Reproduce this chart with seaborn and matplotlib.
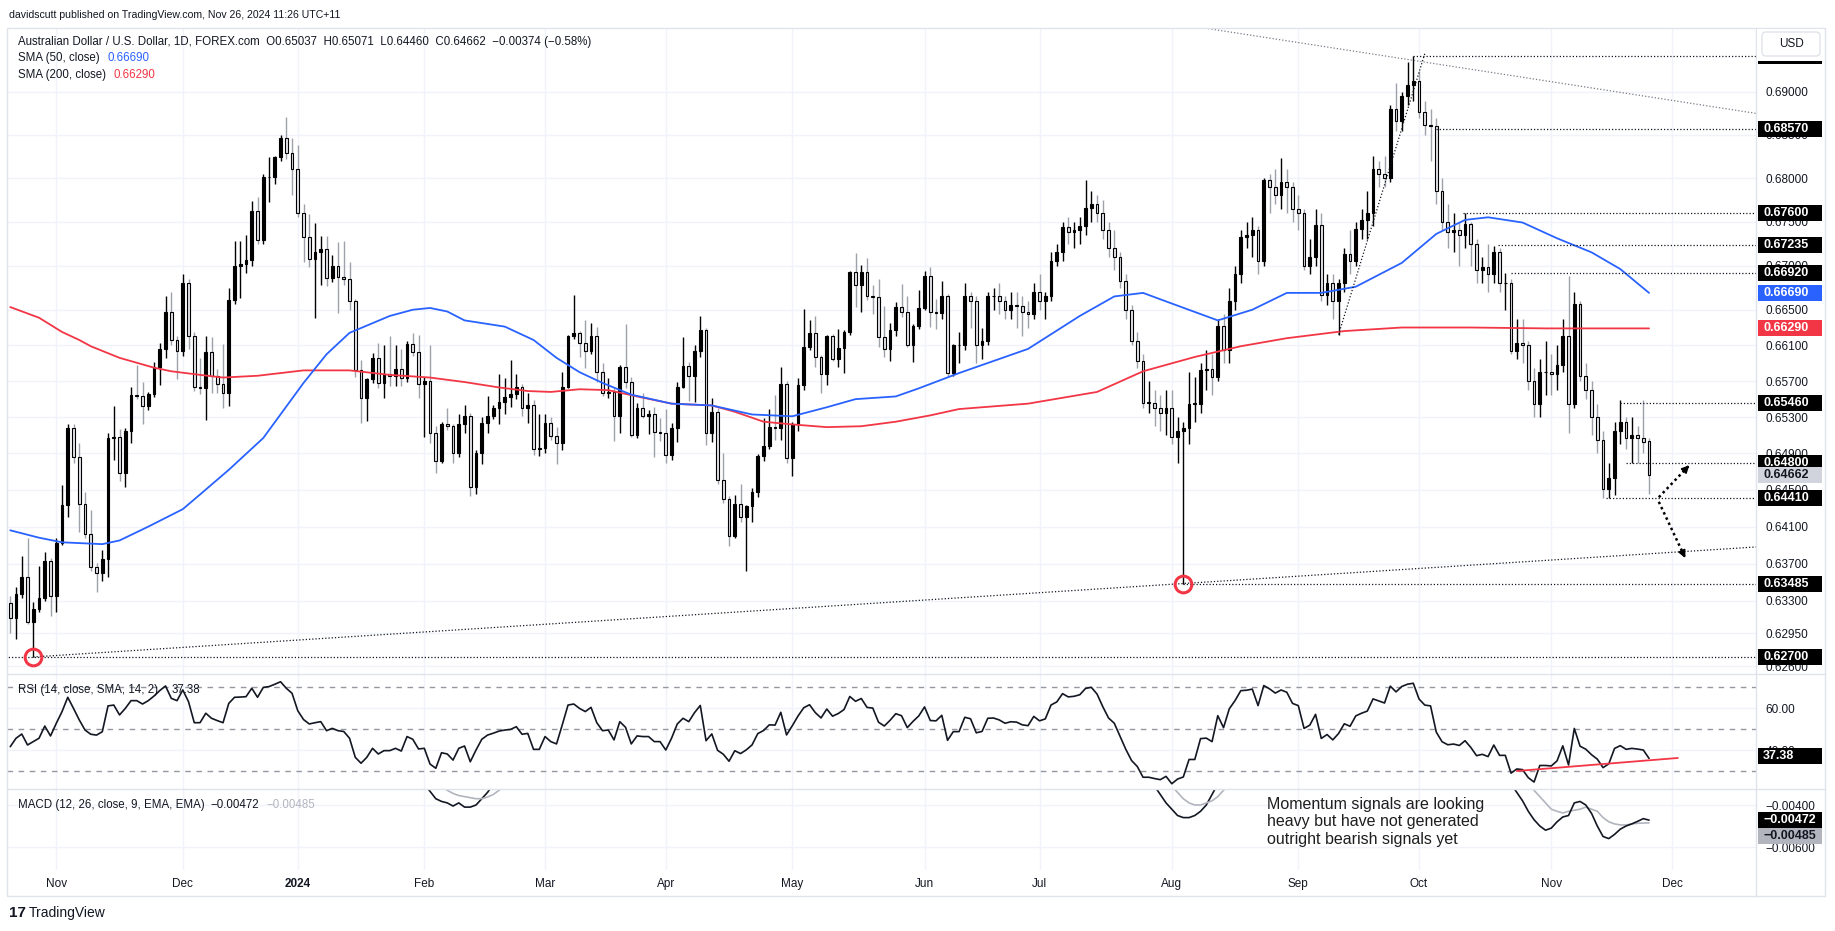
import numpy as np
import pandas as pd
import matplotlib
matplotlib.use("Agg")
import matplotlib.pyplot as plt
from matplotlib.patches import Rectangle, FancyBboxPatch
from matplotlib.lines import Line2D
from matplotlib.transforms import IdentityTransform
from matplotlib.ticker import FixedLocator, NullLocator, FixedFormatter
import seaborn as sns

# ---- AUD/USD daily bars (Oct 20 2023 .. Nov 26 2024) ----
first_open = 0.6328
last_open = 0.65037
close = [
    0.6312, 0.6337, 0.6355, 0.6307, 0.6321, 0.6333, 0.6373, 0.6335, 0.6392, 0.6433,
    0.6518, 0.6486, 0.6435, 0.6402, 0.6366, 0.6360, 0.6375, 0.6507, 0.6508, 0.6469,
    0.6515, 0.6555, 0.6553, 0.6542, 0.6556, 0.6586, 0.6606, 0.6647, 0.6616, 0.6604,
    0.6680, 0.6620, 0.6564, 0.6562, 0.6602, 0.6576, 0.6567, 0.6557, 0.6661, 0.6699,
    0.6702, 0.6706, 0.6762, 0.6729, 0.6801, 0.6801, 0.6824, 0.6846, 0.6829, 0.6810,
    0.6760, 0.6732, 0.6707, 0.6715, 0.6719, 0.6686, 0.6700, 0.6687, 0.6685, 0.6660,
    0.6582, 0.6551, 0.6572, 0.6596, 0.6568, 0.6578, 0.6576, 0.6584, 0.6573, 0.6611,
    0.6602, 0.6567, 0.6570, 0.6512, 0.6482, 0.6523, 0.6520, 0.6491, 0.6523, 0.6531,
    0.6453, 0.6491, 0.6524, 0.6531, 0.6540, 0.6547, 0.6552, 0.6556, 0.6563, 0.6540,
    0.6543, 0.6495, 0.6496, 0.6524, 0.6509, 0.6502, 0.6564, 0.6620, 0.6624, 0.6613,
    0.6604, 0.6621, 0.6580, 0.6557, 0.6558, 0.6531, 0.6586, 0.6569, 0.6510, 0.6540,
    0.6531, 0.6534, 0.6514, 0.6512, 0.6488, 0.6518, 0.6564, 0.6587, 0.6576, 0.6604,
    0.6627, 0.6512, 0.6536, 0.6461, 0.6440, 0.6400, 0.6435, 0.6420, 0.6432, 0.6448,
    0.6487, 0.6498, 0.6519, 0.6518, 0.6567, 0.6485, 0.6522, 0.6566, 0.6608, 0.6624,
    0.6597, 0.6578, 0.6620, 0.6595, 0.6607, 0.6625, 0.6693, 0.6678, 0.6693, 0.6666,
    0.6664, 0.6619, 0.6606, 0.6627, 0.6653, 0.6647, 0.6610, 0.6632, 0.6652, 0.6688,
    0.6647, 0.6646, 0.6666, 0.6579, 0.6610,
    0.6610, 0.6665, 0.6660, 0.6610, 0.6615, 0.6665, 0.6666, 0.6660, 0.6650, 0.6655,
    0.6654, 0.6647, 0.6645, 0.6670, 0.6660, 0.6665, 0.6705, 0.6715, 0.6744, 0.6738,
    0.6740, 0.6745, 0.6766, 0.6770, 0.6760, 0.6740, 0.6720, 0.6710, 0.6683, 0.6650,
    0.6615, 0.6593, 0.6546, 0.6546, 0.6540, 0.6535, 0.6540, 0.6508, 0.6515, 0.6518,
    0.6545, 0.6545, 0.6582, 0.6583, 0.6575, 0.6632, 0.6605, 0.6660, 0.6690, 0.6733,
    0.6735, 0.6740, 0.6705, 0.6798, 0.6790, 0.6780, 0.6795, 0.6790, 0.6765, 0.6760,
    0.6700, 0.6710, 0.6746, 0.6667, 0.6680, 0.6660, 0.6680, 0.6713, 0.6705, 0.6742,
    0.6752, 0.6760, 0.6810, 0.6805, 0.6800, 0.6880, 0.6866, 0.6895, 0.6908, 0.6913,
    0.6877, 0.6862, 0.6860, 0.6785, 0.6750, 0.6738, 0.6740, 0.6735, 0.6747, 0.6725,
    0.6695, 0.6698, 0.6690, 0.6715, 0.6680, 0.6680, 0.6604, 0.6613, 0.6610, 0.6570,
    0.6545, 0.6580, 0.6580, 0.6578, 0.6588, 0.6620, 0.6545, 0.6657, 0.6576, 0.6560,
    0.6530, 0.6505, 0.6451, 0.6463, 0.6515, 0.6525, 0.6507, 0.6510, 0.6507, 0.6503,
    0.64662,
]
high = [
    0.6335, 0.6345, 0.6378, 0.6398, 0.6329, 0.6367, 0.6383, 0.6376, 0.6398, 0.6455,
    0.6522, 0.6522, 0.6501, 0.6448, 0.6428, 0.6371, 0.6385, 0.6513, 0.6542, 0.6517,
    0.6518, 0.6564, 0.6588, 0.6569, 0.6558, 0.6591, 0.6613, 0.6665, 0.6670, 0.6620,
    0.6690, 0.6685, 0.6625, 0.6596, 0.6620, 0.6619, 0.6583, 0.6612, 0.6675, 0.6728,
    0.6728, 0.6735, 0.6774, 0.6778, 0.6805, 0.6824, 0.6826, 0.6850, 0.6871, 0.6846,
    0.6838, 0.6770, 0.6759, 0.6748, 0.6734, 0.6734, 0.6712, 0.6727, 0.6728, 0.6704,
    0.6662, 0.6594, 0.6574, 0.6601, 0.6613, 0.6610, 0.6621, 0.6610, 0.6606, 0.6615,
    0.6624, 0.6622, 0.6575, 0.6610, 0.6520, 0.6525, 0.6540, 0.6523, 0.6534, 0.6543,
    0.6535, 0.6494, 0.6530, 0.6554, 0.6543, 0.6578, 0.6574, 0.6594, 0.6578, 0.6567,
    0.6557, 0.6549, 0.6533, 0.6533, 0.6530, 0.6519, 0.6580, 0.6622, 0.6667, 0.6626,
    0.6638, 0.6635, 0.6631, 0.6590, 0.6574, 0.6562, 0.6588, 0.6634, 0.6575, 0.6546,
    0.6557, 0.6538, 0.6541, 0.6529, 0.6539, 0.6524, 0.6569, 0.6619, 0.6591, 0.6610,
    0.6643, 0.6629, 0.6551, 0.6540, 0.6491, 0.6443, 0.6445, 0.6456, 0.6434, 0.6452,
    0.6489, 0.6529, 0.6539, 0.6555, 0.6586, 0.6570, 0.6525, 0.6573, 0.6651, 0.6638,
    0.6643, 0.6599, 0.6622, 0.6623, 0.6628, 0.6627, 0.6694, 0.6714, 0.6701, 0.6709,
    0.6678, 0.6685, 0.6654, 0.6635, 0.6659, 0.6679, 0.6666, 0.6634, 0.6672, 0.6694,
    0.6698, 0.6662, 0.6683, 0.6668, 0.6612,
    0.6625, 0.6680, 0.6670, 0.6665, 0.6630, 0.6670, 0.6675, 0.6680, 0.6665, 0.6670,
    0.6670, 0.6665, 0.6660, 0.6680, 0.6690, 0.6670, 0.6715, 0.6725, 0.6750, 0.6755,
    0.6750, 0.6755, 0.6798, 0.6785, 0.6780, 0.6775, 0.6750, 0.6740, 0.6715, 0.6690,
    0.6655, 0.6625, 0.6600, 0.6570, 0.6560, 0.6555, 0.6560, 0.6560, 0.6530, 0.6525,
    0.6580, 0.6575, 0.6590, 0.6605, 0.6600, 0.6640, 0.6645, 0.6675, 0.6700, 0.6740,
    0.6750, 0.6755, 0.6745, 0.6800, 0.6805, 0.6810, 0.6823, 0.6810, 0.6795, 0.6780,
    0.6765, 0.6730, 0.6765, 0.6760, 0.6690, 0.6690, 0.6685, 0.6720, 0.6740, 0.6750,
    0.6765, 0.6785, 0.6825, 0.6820, 0.6825, 0.6885, 0.6910, 0.6900, 0.6935, 0.6942,
    0.6925, 0.6890, 0.6880, 0.6870, 0.6800, 0.6770, 0.6760, 0.6750, 0.6760, 0.6750,
    0.6730, 0.6710, 0.6725, 0.6722, 0.6720, 0.6692, 0.6685, 0.6640, 0.6640, 0.6615,
    0.6585, 0.6595, 0.6615, 0.6600, 0.6610, 0.6640, 0.6688, 0.6670, 0.6660, 0.6590,
    0.6570, 0.6545, 0.6515, 0.6480, 0.6525, 0.6549, 0.6530, 0.6530, 0.6520, 0.6549,
    0.65071,
]
low = [
    0.6296, 0.6289, 0.6333, 0.6305, 0.6270, 0.6318, 0.6330, 0.6314, 0.6318, 0.6390,
    0.6420, 0.6480, 0.6404, 0.6398, 0.6362, 0.6339, 0.6351, 0.6355, 0.6483, 0.6460,
    0.6453, 0.6501, 0.6550, 0.6522, 0.6538, 0.6552, 0.6566, 0.6596, 0.6610, 0.6572,
    0.6598, 0.6606, 0.6559, 0.6556, 0.6527, 0.6557, 0.6557, 0.6540, 0.6542, 0.6657,
    0.6663, 0.6691, 0.6700, 0.6725, 0.6725, 0.6773, 0.6793, 0.6820, 0.6822, 0.6781,
    0.6755, 0.6704, 0.6698, 0.6641, 0.6678, 0.6677, 0.6681, 0.6646, 0.6678, 0.6650,
    0.6575, 0.6524, 0.6526, 0.6568, 0.6562, 0.6551, 0.6565, 0.6565, 0.6565, 0.6569,
    0.6598, 0.6551, 0.6508, 0.6502, 0.6469, 0.6479, 0.6516, 0.6480, 0.6486, 0.6512,
    0.6443, 0.6446, 0.6478, 0.6512, 0.6528, 0.6522, 0.6534, 0.6541, 0.6550, 0.6531,
    0.6524, 0.6488, 0.6487, 0.6490, 0.6505, 0.6478, 0.6494, 0.6562, 0.6617, 0.6597,
    0.6585, 0.6600, 0.6569, 0.6553, 0.6551, 0.6504, 0.6512, 0.6562, 0.6508, 0.6507,
    0.6529, 0.6511, 0.6486, 0.6504, 0.6480, 0.6483, 0.6503, 0.6562, 0.6548, 0.6547,
    0.6597, 0.6499, 0.6503, 0.6456, 0.6436, 0.6389, 0.6398, 0.6415, 0.6362, 0.6415,
    0.6442, 0.6482, 0.6495, 0.6505, 0.6505, 0.6480, 0.6465, 0.6515, 0.6560, 0.6605,
    0.6586, 0.6557, 0.6566, 0.6593, 0.6586, 0.6579, 0.6622, 0.6653, 0.6647, 0.6661,
    0.6645, 0.6608, 0.6597, 0.6592, 0.6620, 0.6642, 0.6608, 0.6591, 0.6628, 0.6650,
    0.6631, 0.6628, 0.6640, 0.6576, 0.6576,
    0.6590, 0.6605, 0.6630, 0.6590, 0.6595, 0.6610, 0.6650, 0.6645, 0.6640, 0.6640,
    0.6630, 0.6620, 0.6630, 0.6640, 0.6650, 0.6640, 0.6660, 0.6700, 0.6705, 0.6725,
    0.6720, 0.6725, 0.6735, 0.6750, 0.6750, 0.6730, 0.6710, 0.6695, 0.6675, 0.6640,
    0.6610, 0.6585, 0.6540, 0.6535, 0.6520, 0.6515, 0.6510, 0.6500, 0.6480, 0.63485,
    0.6500, 0.6525, 0.6535, 0.6560, 0.6555, 0.6570, 0.6590, 0.6590, 0.6650, 0.6680,
    0.6720, 0.6710, 0.6690, 0.6700, 0.6760, 0.6770, 0.6765, 0.6760, 0.6750, 0.6740,
    0.6695, 0.6690, 0.6700, 0.6660, 0.6655, 0.6640, 0.6622, 0.6670, 0.6690, 0.6700,
    0.6730, 0.6730, 0.6745, 0.6790, 0.6790, 0.6795, 0.6855, 0.6855, 0.6885, 0.6890,
    0.6870, 0.6850, 0.6820, 0.6770, 0.6740, 0.6720, 0.6715, 0.6700, 0.6720, 0.6700,
    0.6680, 0.6680, 0.6670, 0.6680, 0.6670, 0.6650, 0.6600, 0.6595, 0.6590, 0.6560,
    0.6530, 0.6530, 0.6555, 0.6555, 0.6560, 0.6580, 0.6512, 0.6540, 0.6570, 0.6550,
    0.6510, 0.6490, 0.6441, 0.6441, 0.6445, 0.6500, 0.6495, 0.6480, 0.6480, 0.6490,
    0.64460,
]

# moving averages, read at bar positions
sma50_at = [0, 5, 9, 16, 19, 24, 30, 33, 38, 44, 51, 55, 59, 66, 70, 73, 76, 79, 86, 91,
            95, 99, 103, 108, 115, 122, 129, 136, 142, 147, 154, 158, 165, 177, 186, 192,
            197, 202, 210, 216, 222, 228, 234, 242, 248, 253, 257, 263, 269, 275, 280, 285]
sma50 = [0.6406, 0.6398, 0.6393, 0.6391, 0.6395, 0.6410, 0.6429, 0.6445, 0.6472, 0.6507,
         0.6568, 0.6600, 0.6624, 0.6643, 0.6650, 0.6652, 0.6648, 0.6638, 0.6631, 0.6616,
         0.6596, 0.6580, 0.6568, 0.6555, 0.6545, 0.6543, 0.6533, 0.6531, 0.6541, 0.6550,
         0.6553, 0.6562, 0.6579, 0.6606, 0.6643, 0.6665, 0.6669, 0.6657, 0.6638, 0.6650,
         0.6669, 0.6669, 0.6676, 0.6703, 0.6736, 0.6752, 0.6755, 0.6749, 0.6731, 0.6715,
         0.6696, 0.6669]
sma200_at = [0, 5, 9, 12, 14, 19, 25, 28, 33, 37, 43, 51, 59, 66, 73, 79, 85, 90, 94, 99,
             104, 109, 115, 122, 126, 131, 136, 142, 148, 154, 160, 165, 177, 189, 197, 206,
             214, 222, 232, 242, 254, 267, 285]
sma200 = [0.6653, 0.6641, 0.6625, 0.6616, 0.6609, 0.6596, 0.6585, 0.6581, 0.6577, 0.6574,
          0.6576, 0.6582, 0.6582, 0.6577, 0.6574, 0.6569, 0.6563, 0.6559, 0.6558, 0.6561,
          0.6560, 0.6553, 0.6545, 0.6543, 0.6536, 0.6525, 0.6522, 0.6519, 0.6520, 0.6525,
          0.6532, 0.6539, 0.6545, 0.6558, 0.6581, 0.6597, 0.6609, 0.6618, 0.6626, 0.6630,
          0.6630, 0.6629, 0.6629]

# RSI(14) read for the first bars
rsi_read = [
    41.6, 45.6, 47.6, 42.4, 44.0, 45.6, 51.4, 46.7, 52.7, 58.3,
    65.1, 59.8, 54.3, 49.5, 47.5, 47.1, 48.7, 61.0, 61.4, 56.7,
    59.8, 63.5, 63.5, 61.9, 63.5, 65.7, 68.3, 70.5, 64.6, 63.5,
    68.6, 63.0, 53.0, 53.0, 57.5, 55.1, 54.0, 53.0, 62.2, 65.1,
    65.2, 65.4, 69.4, 65.1, 69.8, 70.2, 71.3, 72.5, 69.4, 67.0,
    58.7, 54.5, 52.4, 53.0, 53.5, 49.2, 50.3, 49.2, 48.8, 45.6,
    36.5, 33.7, 36.5, 40.8, 38.1, 39.7, 39.7, 40.8, 39.5, 46.4,
    45.1, 40.5, 40.8, 33.3, 31.3, 38.7, 38.1, 35.2, 40.8, 41.9,
    34.4, 40.0, 45.1, 47.1, 48.0, 49.0, 49.5, 49.8, 51.1, 47.5,
    47.9, 40.3, 40.3, 46.4, 44.0, 42.9, 52.0, 61.4, 61.9, 59.8,
    58.3, 60.3, 53.0, 49.2, 49.5, 44.8, 53.5, 50.8, 42.9, 46.7,
    46.4, 46.4, 44.0, 44.0, 40.0, 45.6, 52.4, 55.1, 53.5, 57.8,
]

# MACD(12,26,9): only the parts that fall inside the pane
macd_feb_from = 72
macd_feb = [-0.0030, -0.00335, -0.0037, -0.00383, -0.0039, -0.00405, -0.0039, -0.0041,
            -0.0041, -0.0040, -0.0037, -0.0034, -0.0030, -0.0027]
signal_feb_from = 75
signal_feb = [-0.0031, -0.0033, -0.00345, -0.00355, -0.0036, -0.00365, -0.0037, -0.0037,
              -0.00362, -0.0035, -0.0033, -0.0031]
macd_aug_from = 199
macd_aug = [-0.0031, -0.0035, -0.0039, -0.0042, -0.0045, -0.0046, -0.0046, -0.0045,
            -0.0043, -0.0040, -0.0035, -0.0030]
signal_aug_from = 202
signal_aug = [-0.0031, -0.0034, -0.0037, -0.0039, -0.0040, -0.0040, -0.0039, -0.0038,
              -0.0036, -0.0033, -0.0030]
macd_nov_from = 261
macd_nov = [-0.0030, -0.0034, -0.0038, -0.0043, -0.0047, -0.0050, -0.0052, -0.0051,
            -0.0048, -0.00457, -0.0045, -0.0039, -0.00383, -0.0040, -0.0044, -0.0050,
            -0.0055, -0.0056, -0.0054, -0.00515, -0.0050, -0.0049, -0.00478, -0.00465,
            -0.00472]
signal_nov_from = 264
signal_nov = [-0.0030, -0.0033, -0.0036, -0.0039, -0.0042, -0.0043, -0.00438, -0.0043,
              -0.00425, -0.0042, -0.0041, -0.0042, -0.0043, -0.0046, -0.0048, -0.0049,
              -0.00495, -0.00495, -0.0049, -0.00487, -0.00486, -0.00485]

levels = [0.6942, 0.6857, 0.6760, 0.67235, 0.6692, 0.6546, 0.6480, 0.6441, 0.63485, 0.6270]
level_from = [244, 248, 252.6, 258.7, 261, 280, 281, 277.5, 204, -1]
price_ticks = [0.690, 0.685, 0.680, 0.675, 0.670, 0.665, 0.661, 0.657, 0.653, 0.649,
               0.645, 0.641, 0.637, 0.633, 0.6295, 0.626]

# ---------------------------------------------------------------------------
sns.set_theme(style="white")
plt.rcParams['font.family'] = ['Liberation Sans', 'DejaVu Sans']
TXT = '#131722'
GRID = '#f0f3fa'
FRAME = '#e0e3eb'

W, H = 1835, 931
fig = plt.figure(figsize=(W / 100, H / 100), dpi=100)
fig.patch.set_facecolor('white')
PIX = IdentityTransform()


def area(l, t, r, b):
    return [l / W, 1 - b / H, (r - l) / W, (b - t) / H]


ax = fig.add_axes(area(7, 28, 1756, 674))
ax_rsi = fig.add_axes(area(7, 674, 1756, 789))
ax_macd = fig.add_axes(area(7, 789, 1756, 870))
x_lo, x_hi = -0.57, 303.6

days = pd.bdate_range("2023-10-20", "2024-12-31")
days = days[~days.isin(pd.to_datetime(["2023-12-25", "2024-01-01", "2024-12-25"]))]
per = days.to_period("M")
month_at = [i for i in range(1, len(days)) if per[i] != per[i - 1] and i < x_hi]
month_lab = ["2024" if days[i].month == 1 else days[i].strftime("%b") for i in month_at]

for a in (ax, ax_rsi, ax_macd):
    a.set_facecolor('white')
    for s in a.spines.values():
        s.set_visible(False)
    for m in month_at:
        a.axvline(m, color=GRID, lw=1, zorder=0)

# ---- candles ----
c = np.array(close)
h = np.array(high)
l = np.array(low)
o = np.r_[first_open, c[:-1]]
o[-1] = last_open
h = np.maximum(h, np.maximum(o, c))
l = np.minimum(l, np.minimum(o, c))
x = np.arange(len(c))
up = c >= o
dn = ~up
ax.vlines(x[up], l[up], h[up], color='black', lw=1.0, zorder=2)
ax.vlines(x[dn], l[dn], h[dn], color='#9ea1aa', lw=1.0, zorder=2)
bot = np.minimum(o, c)
hgt = np.maximum(np.abs(c - o), 0.00004)
ax.bar(x[up], hgt[up], bottom=bot[up], width=0.5, color='black', edgecolor='black', lw=0.8, zorder=3)
ax.bar(x[dn], hgt[dn], bottom=bot[dn], width=0.5, color='#e3e5ea', edgecolor='black', lw=0.8, zorder=3)

sns.lineplot(x=sma200_at, y=sma200, ax=ax, color='#f23645', lw=1.3, zorder=4)
sns.lineplot(x=sma50_at, y=sma50, ax=ax, color='#2962ff', lw=1.3, zorder=4)

ax.set_yscale('log')
ax.set_ylim(0.62519, 0.69752)
ax.set_xlim(x_lo, x_hi)
ax.yaxis.set_major_locator(FixedLocator(price_ticks))
ax.yaxis.set_minor_locator(NullLocator())
ax.yaxis.set_major_formatter(FixedFormatter([f"{t:.5f}" for t in price_ticks]))
ax.yaxis.tick_right()
ax.tick_params(axis='y', length=0, pad=7, labelsize=8.5, labelcolor=TXT)
ax.tick_params(axis='x', bottom=False, labelbottom=False)
ax.set_xlabel('')
ax.set_ylabel('')
for t in price_ticks:
    ax.axhline(t, color=GRID, lw=1, zorder=0)

dots = (0, (1, 1.6))
for lv, x0 in zip(levels, level_from):
    ax.plot([x0, x_hi], [lv, lv], color=TXT, lw=0.9, ls=dots, zorder=5)


def ray(x0, p0, x1, p1, x_end):
    k = (np.log(p1) - np.log(p0)) / (x1 - x0)
    return [x0, x_end], [p0, np.exp(np.log(p0) + k * (x_end - x0))]


ax.plot(*ray(4, 0.6270, 204, 0.63485, x_hi), color=TXT, lw=0.9, ls=dots, zorder=5)
ax.plot([205, x_hi], [0.6978, 0.6875], color='#787b86', lw=0.9, ls=dots, zorder=5)
ax.plot([231, 246], [0.6622, 0.6945], color=TXT, lw=0.9, ls=dots, zorder=5)
for cx, cp in [(4, 0.6270), (204, 0.63485)]:
    ax.plot(cx, cp, 'o', ms=12, mfc='none', mec='#f23645', mew=2.2, zorder=6)

# scenario arrows
for (x0, p0), (x1, p1) in [((286.7, 0.6442), (292.0, 0.6477)), ((286.7, 0.6437), (291.3, 0.6376))]:
    ax.plot([x0, x1], [p0, p1], color='black', lw=1.8, ls=(0, (1, 1.3)), zorder=6)
    ax.annotate('', xy=(x1, p1), xytext=(x0 + 0.85 * (x1 - x0), p0 * (p1 / p0) ** 0.85),
                arrowprops=dict(arrowstyle='-|>', color='black', lw=1.2, mutation_scale=11,
                                shrinkA=0, shrinkB=0), zorder=6)

# ---- RSI ----
diff = np.diff(c, prepend=c[0])
gain = pd.Series(np.clip(diff, 0, None)).ewm(alpha=1 / 14, adjust=False).mean()
loss = pd.Series(np.clip(-diff, 0, None)).ewm(alpha=1 / 14, adjust=False).mean()
rsi = (100 - 100 / (1 + gain / loss)).to_numpy()
rsi[:len(rsi_read)] = rsi_read
sns.lineplot(x=x, y=rsi, ax=ax_rsi, color=TXT, lw=1.2, zorder=4)
for lv in (70, 50, 30):
    ax_rsi.axhline(lv, color='#9598a1', lw=1, ls=(0, (4, 4)), zorder=1)
for lv in (60, 40):
    ax_rsi.axhline(lv, color=GRID, lw=1, zorder=0)
ax_rsi.plot([262, 290], [30.0, 36.2], color='#f23645', lw=1.3, zorder=5)
ax_rsi.set_ylim(21.43, 76.19)
ax_rsi.set_xlim(x_lo, x_hi)
ax_rsi.yaxis.tick_right()
ax_rsi.set_yticks([60, 40])
ax_rsi.set_yticklabels(["60.00", "40.00"])
ax_rsi.tick_params(axis='y', length=0, pad=7, labelsize=8.5, labelcolor=TXT)
ax_rsi.tick_params(axis='x', bottom=False, labelbottom=False)
ax_rsi.set_xlabel('')
ax_rsi.set_ylabel('')

# ---- MACD ----
for start, vals, col in [(macd_feb_from, macd_feb, TXT), (signal_feb_from, signal_feb, '#b2b5be'),
                         (macd_aug_from, macd_aug, TXT), (signal_aug_from, signal_aug, '#b2b5be'),
                         (signal_nov_from, signal_nov, '#b2b5be'), (macd_nov_from, macd_nov, TXT)]:
    sns.lineplot(x=np.arange(start, start + len(vals)), y=vals, ax=ax_macd, color=col, lw=1.2, zorder=4)
for lv in (-0.004, -0.006):
    ax_macd.axhline(lv, color=GRID, lw=1, zorder=0)
ax_macd.set_ylim(-0.007095, -0.003238)
ax_macd.set_xlim(x_lo, x_hi)
ax_macd.yaxis.tick_right()
ax_macd.set_yticks([-0.004, -0.006])
ax_macd.set_yticklabels(["\u22120.00400", "\u22120.00600"])
ax_macd.tick_params(axis='y', length=0, pad=7, labelsize=8.5, labelcolor=TXT)
ax_macd.set_xticks(month_at)
ax_macd.set_xticklabels(month_lab)
ax_macd.tick_params(axis='x', length=0, pad=6, labelsize=8.5, labelcolor=TXT)
for tl in ax_macd.get_xticklabels():
    if tl.get_text() == "2024":
        tl.set_fontweight('bold')
ax_macd.set_xlabel('')
ax_macd.set_ylabel('')

# ---- frame ----
fig.canvas.draw()


def hline(y, x0, x1):
    fig.add_artist(Line2D([x0, x1], [H - y, H - y], color=FRAME, lw=1, transform=PIX))


fig.add_artist(Rectangle((7, H - 896), 1818, 868, fill=False, ec=FRAME, lw=1, transform=PIX))
fig.add_artist(Line2D([1756, 1756], [H - 896, H - 28], color=FRAME, lw=1, transform=PIX))
hline(674, 7, 1825)
hline(789, 7, 1825)


def tag(axis, value, text, fc, tc, dy=0):
    yd = axis.transData.transform((0, value))[1] - dy
    fig.add_artist(Rectangle((1758, yd - 8), 64, 16, fc=fc, ec='none', transform=PIX, zorder=20))
    fig.text(1763, yd, text, transform=PIX, ha='left', va='center', fontsize=9,
             fontweight='bold', color=tc, zorder=21)


for lv in levels:
    tag(ax, lv, f"{lv:.5f}", 'black', 'white')
tag(ax, 0.6669, "0.66690", '#2962ff', 'white')
tag(ax, 0.6629, "0.66290", '#f23645', 'white')
tag(ax, 0.64662, "0.64662", '#d1d4dc', TXT)
tag(ax_rsi, 37.38, "37.38", 'black', 'white')
tag(ax_macd, -0.00472, "\u22120.00472", 'black', 'white')
tag(ax_macd, -0.00472, "\u22120.00485", '#b2b5be', TXT, dy=16)

# currency button sits over the top level tag
fig.add_artist(Rectangle((1757, H - 60.5), 67, 32, fc='white', ec='none', transform=PIX, zorder=29))
fig.add_artist(FancyBboxPatch((1762, H - 56), 58, 24, boxstyle='round,pad=0,rounding_size=4',
                              fc='white', ec=FRAME, lw=1, transform=PIX, zorder=30))
fig.text(1791, H - 44, "USD", transform=PIX, ha='center', va='center', fontsize=8.5, color=TXT, zorder=31)

# ---- texts ----
def ptext(xp, yp, s, **kw):
    kw.setdefault('fontsize', 8.3)
    kw.setdefault('color', TXT)
    fig.text(xp, H - yp, s, transform=PIX, ha='left', va='center', zorder=25, **kw)


ptext(9, 15, "davidscutt published on TradingView.com, Nov 26, 2024 11:26 UTC+11", fontsize=7.6)
ptext(18, 42, "Australian Dollar / U.S. Dollar, 1D, FOREX.com  O0.65037  H0.65071  L0.64460  "
              "C0.64662  \u22120.00374 (\u22120.58%)")
ptext(18, 58, "SMA (50, close)")
ptext(107, 58, "0.66690", color='#2962ff')
ptext(18, 75, "SMA (200, close)")
ptext(114, 75, "0.66290", color='#f23645')
ptext(18, 690, "RSI (14, close, SMA, 14, 2)")
ptext(172, 690, "37.38")
ptext(18, 805, "MACD (12, 26, close, 9, EMA, EMA)")
ptext(210, 805, "\u22120.00472")
ptext(266, 805, "\u22120.00485", color='#b2b5be')
ptext(9, 913, "17", fontsize=11, fontweight='bold')
ptext(29, 913, "TradingView", fontsize=10)
fig.text(1267, H - 797, "Momentum signals are looking\nheavy but have not generated\n"
         "outright bearish signals yet", transform=PIX, ha='left', va='top',
         fontsize=11.5, color='#1e1e1e', linespacing=1.2, zorder=25)

fig.savefig("out.png", dpi=100, facecolor='white')
